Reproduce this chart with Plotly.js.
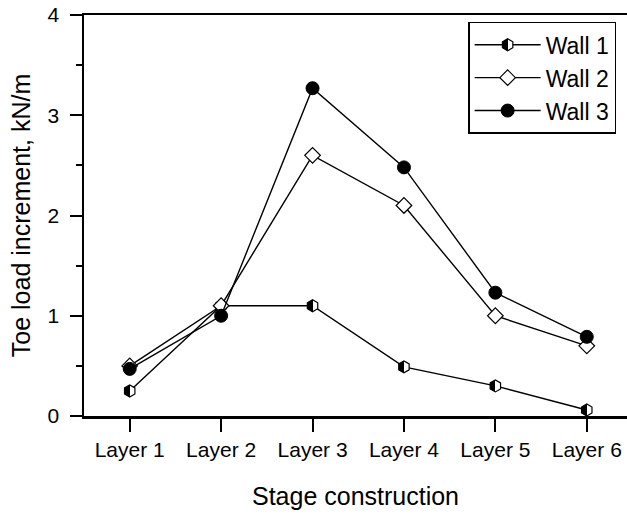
<!DOCTYPE html>
<html>
<head>
<meta charset="utf-8">
<script src="https://cdn.plot.ly/plotly-3.0.1.min.js"></script>
<style>html,body{margin:0;padding:0;background:#fff;}#chart{width:627px;height:515px;}</style>
</head>
<body>
<div id="chart"></div>
<script>
const categories = ["Layer 1", "Layer 2", "Layer 3", "Layer 4", "Layer 5", "Layer 6"];
const wall1 = [0.25, 1.1, 1.1, 0.49, 0.3, 0.06];
const wall2 = [0.5, 1.1, 2.6, 2.1, 1.0, 0.7];
const wall3 = [0.47, 1.0, 3.27, 2.48, 1.23, 0.79];
const seriesNames = ["Wall 1", "Wall 2", "Wall 3"];
const yTicks = [0, 1, 2, 3, 4];

const FONT = "Liberation Sans, Arial, sans-serif";
const lineStyle = {color: "black", width: 1.4};

const traces = [
  {
    x: categories, y: wall1, name: seriesNames[0], type: "scatter", mode: "lines+markers",
    line: lineStyle,
    marker: {symbol: "hexagon", size: 12, color: "white", line: {color: "black", width: 1.2},
             gradient: {type: "horizontal", color: "black"}}
  },
  {
    x: categories, y: wall2, name: seriesNames[1], type: "scatter", mode: "lines+markers",
    line: lineStyle,
    marker: {symbol: "diamond", size: 12, color: "white", line: {color: "black", width: 1.2}}
  },
  {
    x: categories, y: wall3, name: seriesNames[2], type: "scatter", mode: "lines+markers",
    line: lineStyle,
    marker: {symbol: "circle", size: 13, color: "black", line: {color: "black", width: 1}}
  }
];

const layout = {
  width: 627, height: 515,
  margin: {l: 84, r: 0, t: 15, b: 99},
  paper_bgcolor: "white", plot_bgcolor: "white",
  font: {family: FONT, color: "black", size: 21},
  showlegend: true,
  legend: {
    x: 0.98, xanchor: "right", y: 0.983, yanchor: "top",
    bgcolor: "white", bordercolor: "black", borderwidth: 1.5,
    font: {family: FONT, size: 23, color: "black"},
    itemwidth: 66, tracegroupgap: 0
  },
  xaxis: {
    type: "category", range: [-0.5, 5.44],
    showline: true, linecolor: "black", linewidth: 2.5, mirror: true,
    ticks: "outside", ticklen: 13, tickwidth: 2, tickcolor: "black",
    showgrid: false, zeroline: false,
    tickfont: {family: FONT, size: 21, color: "black"},
    title: {text: "Stage construction", font: {family: FONT, size: 25, color: "black"}, standoff: 28}
  },
  yaxis: {
    range: [0, 4], tickvals: yTicks, ticktext: yTicks.map(String),
    showline: true, linecolor: "black", linewidth: 2.5,
    ticks: "outside", ticklen: 12, tickwidth: 2, tickcolor: "black",
    minor: {dtick: 0.5, ticks: "outside", ticklen: 6, tickwidth: 2, tickcolor: "black", showgrid: false},
    showgrid: false, zeroline: false,
    tickfont: {family: FONT, size: 21, color: "black"},
    ticklabelstandoff: 6,
    title: {text: "Toe load increment, kN/m", font: {family: FONT, size: 25, color: "black"}, standoff: 10}
  }
};

// Make the Wall 1 gradient a crisp half-white / half-black split
function sharpenGradients() {
  document.querySelectorAll("#chart linearGradient").forEach(function (g) {
    while (g.firstChild) g.removeChild(g.firstChild);
    [["0", "white"], ["0.5", "white"], ["0.5", "black"], ["1", "black"]].forEach(function (s) {
      const stop = document.createElementNS("http://www.w3.org/2000/svg", "stop");
      stop.setAttribute("offset", s[0]);
      stop.setAttribute("stop-color", s[1]);
      g.appendChild(stop);
    });
  });
}

Plotly.newPlot("chart", traces, layout, {displayModeBar: false, staticPlot: true}).then(sharpenGradients);
</script>
</body>
</html>
